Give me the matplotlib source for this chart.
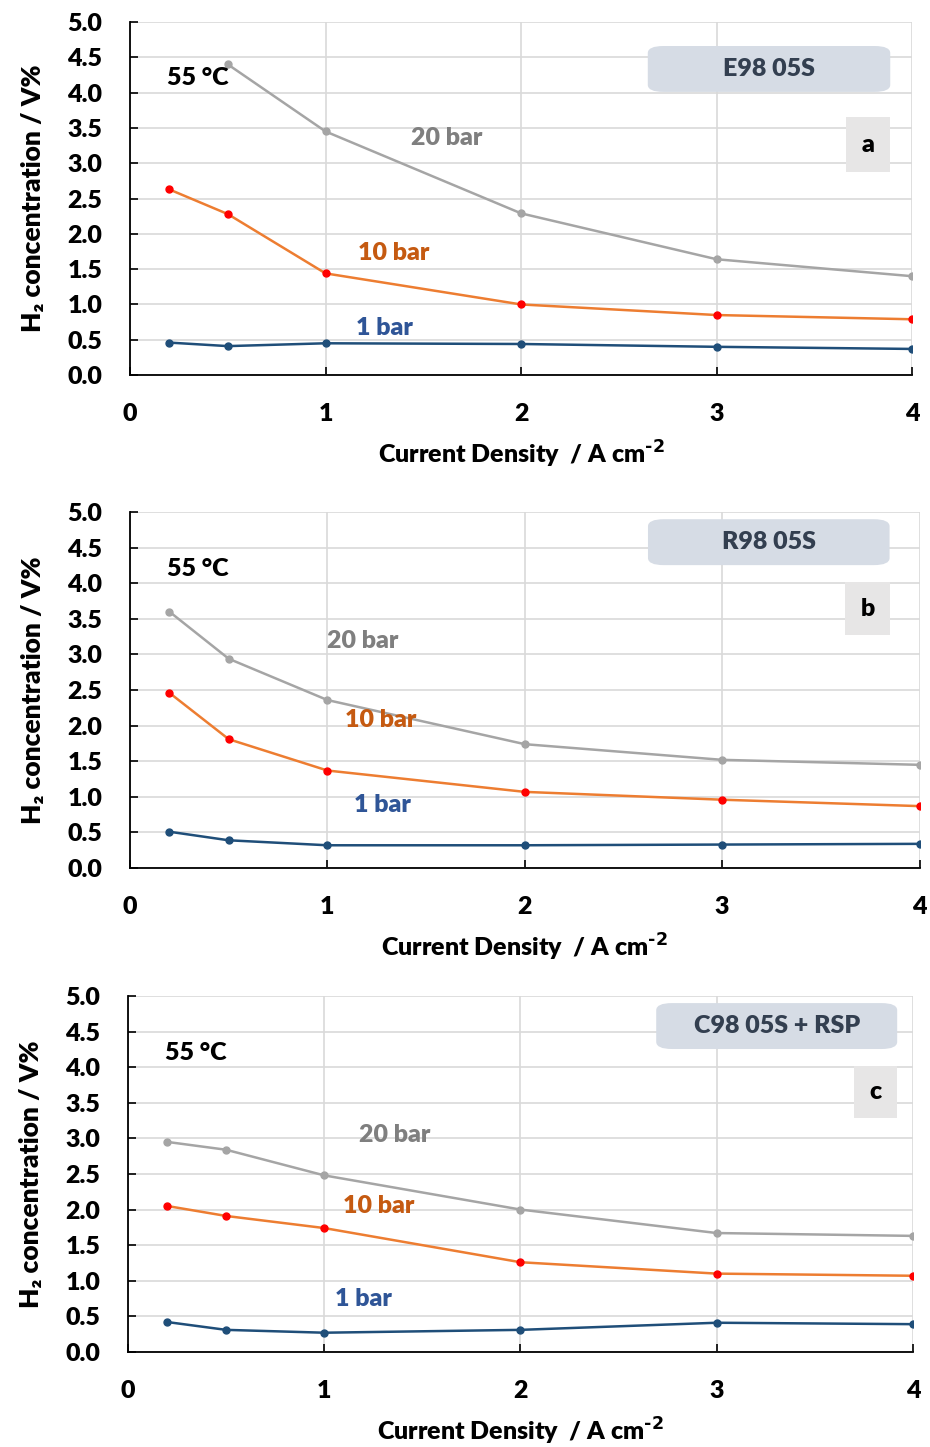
import matplotlib.pyplot as plt
from matplotlib.patches import FancyBboxPatch

plt.rcParams['font.family'] = ['Lato', 'DejaVu Sans']
plt.rcParams['font.weight'] = 'heavy'

# Data
x_all = [0.2, 0.5, 1, 2, 3, 4]

# panel a: E98 05S (20 bar starts at 0.5)
a_x20 = [0.5, 1, 2, 3, 4]
a_20 = [4.40, 3.45, 2.29, 1.64, 1.40]
a_10 = [2.63, 2.28, 1.44, 1.00, 0.85, 0.79]
a_1 = [0.46, 0.41, 0.45, 0.44, 0.40, 0.37]

# panel b: R98 05S
b_20 = [3.60, 2.94, 2.36, 1.74, 1.52, 1.45]
b_10 = [2.46, 1.81, 1.37, 1.07, 0.96, 0.87]
b_1 = [0.51, 0.39, 0.32, 0.32, 0.33, 0.34]

# panel c: C98 05S + RSP
c_20 = [2.95, 2.84, 2.48, 2.00, 1.67, 1.63]
c_10 = [2.05, 1.91, 1.74, 1.26, 1.10, 1.07]
c_1 = [0.42, 0.31, 0.27, 0.31, 0.41, 0.39]

titles = ['E98 05S', 'R98 05S', 'C98 05S + RSP']
letters = ['a', 'b', 'c']

col20, col10, col1 = '#a5a5a5', '#ed7d31', '#1f4e79'
lab20, lab10, lab1 = '#7f7f7f', '#c55a11', '#2f5597'
fs = 18
wt = 'heavy'

fig = plt.figure(figsize=(9.3, 14.47), dpi=100)

axes_pos = [
    [0.1398, 0.7408, 0.841, 0.244],
    [0.1398, 0.4001, 0.849, 0.246],
    [0.1376, 0.0657, 0.844, 0.246],
]
panels = [
    (a_x20, a_20, a_10, a_1),
    (x_all, b_20, b_10, b_1),
    (x_all, c_20, c_10, c_1),
]
title_box = [(0.662, 0.802, 0.310, 0.130),
             (0.656, 0.851, 0.306, 0.129),
             (0.673, 0.851, 0.307, 0.129)]
letter_box = [(0.916, 0.575, 0.056, 0.156),
              (0.906, 0.654, 0.056, 0.149),
              (0.925, 0.657, 0.055, 0.146)]
label_pos = [
    [(1.62, 3.36), (1.35, 1.73), (1.30, 0.67)],
    [(1.18, 3.19), (1.27, 2.08), (1.28, 0.88)],
    [(1.36, 3.05), (1.28, 2.05), (1.20, 0.74)],
]

for i, pos in enumerate(axes_pos):
    ax = fig.add_axes(pos)
    x20, y20, y10, y1 = panels[i]
    ax.plot(x20, y20, '-o', color=col20, lw=1.8, ms=5, mfc=col20, mec=col20, zorder=3)
    ax.plot(x_all, y10, '-', color=col10, lw=1.8, zorder=3)
    ax.plot(x_all, y10, 'o', color='#ff0000', ms=5, zorder=4)
    ax.plot(x_all, y1, '-o', color=col1, lw=1.8, ms=5, zorder=3)

    ax.set_xlim(0, 4)
    ax.set_ylim(0, 5)
    ax.set_xticks([0, 1, 2, 3, 4])
    ax.set_yticks([0, 0.5, 1, 1.5, 2, 2.5, 3, 3.5, 4, 4.5, 5])
    ax.set_yticklabels(['%.1f' % v for v in ax.get_yticks()])
    ax.grid(True, color='#d9d9d9', lw=1.2)
    ax.set_axisbelow(True)
    for s in ['top', 'right']:
        ax.spines[s].set_visible(False)
    for s in ['left', 'bottom']:
        ax.spines[s].set_linewidth(1.3)
    ax.tick_params(axis='y', direction='in', length=6, width=1.2, pad=20, labelsize=fs)
    ax.tick_params(axis='x', direction='in', length=6, width=1.2, pad=20, labelsize=fs)
    for lbl in ax.get_xticklabels() + ax.get_yticklabels():
        lbl.set_fontweight(wt)

    ax.set_xlabel('Current Density  / A cm$^{\\mathbf{\u2010}2}$', fontsize=fs, fontweight=wt, labelpad=10)
    ax.set_ylabel('H\u2082 concentration / V%', fontsize=19, fontweight=wt, labelpad=16)

    ax.text(0.047, 0.84, '55 \u00b0C', transform=ax.transAxes, fontsize=fs,
            fontweight=wt, va='center', ha='left')

    bx, by, bw, bh = title_box[i]
    ax.add_patch(FancyBboxPatch((bx, by), bw, bh, boxstyle='round,pad=0,rounding_size=0.02',
                                transform=ax.transAxes, fc='#d6dce5', ec='none', zorder=5))
    ax.text(bx + bw / 2, by + bh / 2, titles[i], transform=ax.transAxes, fontsize=fs,
            fontweight=wt, color='#333f50', ha='center', va='center', zorder=6)

    lx, ly, lw_, lh = letter_box[i]
    ax.add_patch(plt.Rectangle((lx, ly), lw_, lh, transform=ax.transAxes,
                               fc='#e7e6e6', ec='none', zorder=5))
    ax.text(lx + lw_ / 2, ly + lh / 2, letters[i], transform=ax.transAxes, fontsize=fs,
            fontweight=wt, color='black', ha='center', va='center', zorder=6)

    (p20, p10, p1) = label_pos[i]
    ax.text(p20[0], p20[1], '20 bar', color=lab20, fontsize=fs, fontweight=wt, ha='center', va='center')
    ax.text(p10[0], p10[1], '10 bar', color=lab10, fontsize=fs, fontweight=wt, ha='center', va='center')
    ax.text(p1[0], p1[1], '1 bar', color=lab1, fontsize=fs, fontweight=wt, ha='center', va='center')

plt.savefig('out.png', dpi=100)
